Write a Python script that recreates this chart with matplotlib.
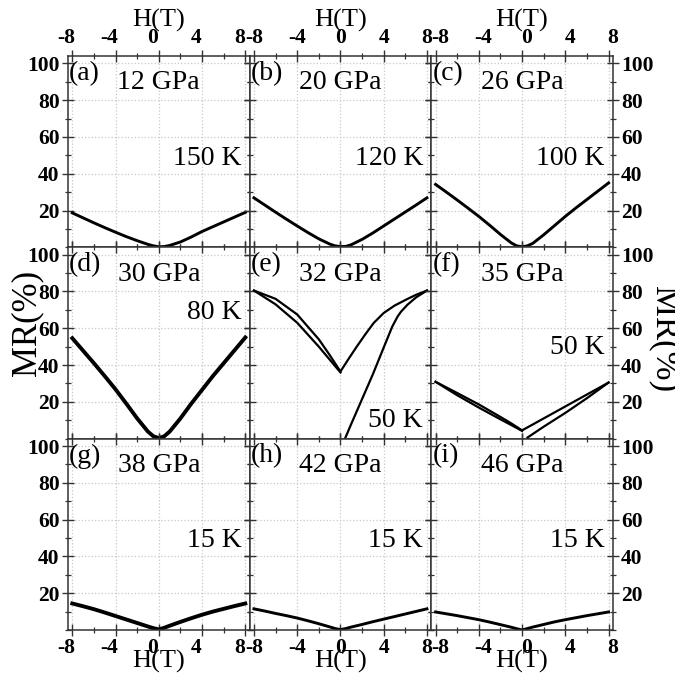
import numpy as np
import matplotlib
matplotlib.use("Agg")
import matplotlib.pyplot as plt
import matplotlib.transforms as mtransforms
from matplotlib.ticker import MultipleLocator

plt.rcParams['font.family'] = ['Liberation Serif', 'DejaVu Serif']
plt.rcParams['axes.unicode_minus'] = False

# panel texts
labels = ['(a)', '(b)', '(c)', '(d)', '(e)', '(f)', '(g)', '(h)', '(i)']
pressures = ['12 GPa', '20 GPa', '26 GPa', '30 GPa', '32 GPa', '35 GPa', '38 GPa', '42 GPa', '46 GPa']
temps = ['150 K', '120 K', '100 K', '80 K', '50 K', '50 K', '15 K', '15 K', '15 K']
temp_y = [0.466, 0.466, 0.466, 0.66, 0.094, 0.474, 0.47, 0.47, 0.47]

# field points (T)
H = [-8, -7, -6, -5, -4, -3, -2, -1, -0.5, 0, 0.5, 1, 2, 3, 4, 5, 6, 7, 8]

# MR (%)
mr_a = [18.7, 16.0, 13.3, 10.7, 8.2, 5.8, 3.6, 1.6, 0.8, 0.3, 0.4, 1.0, 2.9, 5.6, 8.6, 11.2, 13.8, 16.4, 19.0]
mr_b = [26.9, 23.0, 19.1, 15.3, 11.6, 8.0, 4.6, 1.8, 0.8, 0.4, 0.5, 1.4, 4.3, 7.8, 11.6, 15.4, 19.2, 23.0, 26.9]
mr_c = [34.2, 30.0, 25.7, 21.3, 16.8, 12.0, 7.0, 2.4, 0.8, 0.3, 0.8, 2.2, 6.8, 11.8, 16.8, 21.5, 26.0, 30.5, 35.0]
mr_d = [54.6, 47.8, 41.0, 34.0, 26.8, 19.0, 11.0, 3.8, 1.3, 0.3, 1.3, 3.8, 11.0, 19.0, 26.5, 34.0, 41.0, 48.0, 55.0]
mr_g = [14.4, 12.9, 11.3, 9.5, 7.6, 5.7, 3.8, 1.9, 1.0, 0.3, 1.2, 2.3, 4.4, 6.4, 8.3, 10.0, 11.5, 13.0, 14.4]
mr_h = [11.5, 10.3, 9.0, 7.8, 6.5, 5.0, 3.4, 1.7, 0.8, 0.2, 0.8, 1.6, 3.0, 4.5, 5.9, 7.3, 8.7, 10.1, 11.5]
mr_i = [9.8, 8.8, 7.8, 6.7, 5.6, 4.3, 2.9, 1.5, 0.7, 0.0, 0.8, 1.6, 3.0, 4.4, 5.6, 6.7, 7.8, 8.8, 9.8]

# (e) 32 GPa: hysteresis branches
e_up_H = [-8, -6, -4, -2, -1, 0, 0.77, 1.54, 2.3, 3.08, 4, 5, 6.15, 7, 8]
e_up = [80.5, 76.0, 67.5, 54.0, 45.5, 36.5, 43.5, 50.3, 56.7, 62.9, 68.3, 72.3, 75.8, 78.2, 80.5]
e_low_H = [-8, -6, -4, -2, -1, 0]
e_low = [80.5, 73.0, 63.0, 50.0, 43.0, 36.0]
e_vir_H = [0.45, 1, 2, 3, 4, 4.8, 5.3, 5.6, 6.2, 7, 8]
e_vir = [0.4, 8.0, 21.5, 35.0, 49.5, 61.0, 66.5, 69.0, 72.8, 76.8, 80.5]

# (f) 35 GPa
f_up_H = [-8, -6, -4, -2, -1, 0, 2, 4, 6, 8]
f_up = [30.9, 24.8, 18.6, 11.8, 8.3, 4.5, 11.0, 17.5, 24.0, 30.5]
f_low_H = [-8, -6, -4, -2, -1, 0]
f_low = [30.9, 23.6, 16.9, 10.5, 7.4, 4.2]
f_vir_H = [0.5, 2, 4, 6, 8]
f_vir = [0.6, 6.5, 14.0, 22.0, 30.5]

fig, axes = plt.subplots(3, 3, figsize=(6.75, 6.81), dpi=100, sharex=True, sharey=True,
                         gridspec_kw=dict(wspace=0, hspace=0))
fig.subplots_adjust(left=0.1007, right=0.908, top=0.9178, bottom=0.0749)

lw = 2.1
simple = {0: mr_a, 1: mr_b, 2: mr_c, 3: mr_d, 6: mr_g, 7: mr_h, 8: mr_i}
col_shift = [-6, 0, 4.5]   # px shift of x tick labels per column, as in the original

for k, ax in enumerate(axes.flat):
    r, c = divmod(k, 3)
    if k in simple:
        w = 2.8 if k in (3, 6) else lw
        ax.plot(H, simple[k], color='black', lw=w, solid_joinstyle='round')
    elif k == 4:
        ax.plot(e_up_H, e_up, color='black', lw=1.6)
        ax.plot(e_low_H, e_low, color='black', lw=1.6)
        ax.plot(e_vir_H, e_vir, color='black', lw=1.6)
    elif k == 5:
        ax.plot(f_up_H, f_up, color='black', lw=1.6)
        ax.plot(f_low_H, f_low, color='black', lw=1.6)
        ax.plot(f_vir_H, f_vir, color='black', lw=1.6)

    ax.set_xlim(-8.4, 8.4)
    ax.set_ylim(0, 104)
    ax.set_xticks([-8, -4, 0, 4, 8])
    ax.set_yticks([20, 40, 60, 80, 100])
    ax.xaxis.set_minor_locator(MultipleLocator(2))
    ax.yaxis.set_minor_locator(MultipleLocator(10))
    ax.grid(True, which='major', color='#c8c8c8', linestyle=':', lw=0.9)
    for s in ax.spines.values():
        s.set_color('#333333')
        s.set_linewidth(1.1)

    ax.tick_params(which='both', direction='inout', top=True, bottom=True, left=True, right=True,
                   color='#333333', labelsize=15.5)
    ax.tick_params(which='major', length=8, width=1.0)
    ax.tick_params(which='minor', length=5, width=0.9)
    ax.tick_params(labeltop=(r == 0), labelbottom=(r == 2),
                   labelleft=(c == 0), labelright=(c == 2), pad=2)

    shift = mtransforms.ScaledTranslation(col_shift[c] / 100, 0, fig.dpi_scale_trans)
    for tick in ax.xaxis.get_major_ticks():
        for t in (tick.label1, tick.label2):
            t.set_fontweight('bold')
            t.set_transform(t.get_transform() + shift)
    for t in ax.get_yticklabels(which='both'):
        t.set_fontweight('bold')
    for tick in ax.yaxis.get_major_ticks():
        tick.label2.set_fontweight('bold')

    if r == 0:
        ax.set_xlabel('H(T)', fontsize=19)
        ax.xaxis.set_label_position('top')
        ax.xaxis.set_label_coords(0.5, 1.188)
        ax.xaxis.label.set_va('center')
    if r == 2:
        ax.set_xlabel('H(T)', fontsize=19)
        ax.xaxis.set_label_coords(0.5, -0.165)
        ax.xaxis.label.set_va('center')

    ax.text(0.006, 0.975, labels[k], transform=ax.transAxes, fontsize=20, ha='left', va='top')
    ax.text(0.5, 0.86, pressures[k], transform=ax.transAxes, fontsize=20, ha='center', va='center')
    ax.text(0.955, temp_y[k], temps[k], transform=ax.transAxes, fontsize=20, ha='right', va='center')

fig.text(27 / 675, 1 - 323 / 681, 'MR(%)', rotation=90, ha='center', va='center', fontsize=25)
fig.text(664 / 675, 1 - 339 / 681, 'MR(%)', rotation=270, ha='center', va='center', fontsize=25)

fig.savefig('out.png', dpi=100)
